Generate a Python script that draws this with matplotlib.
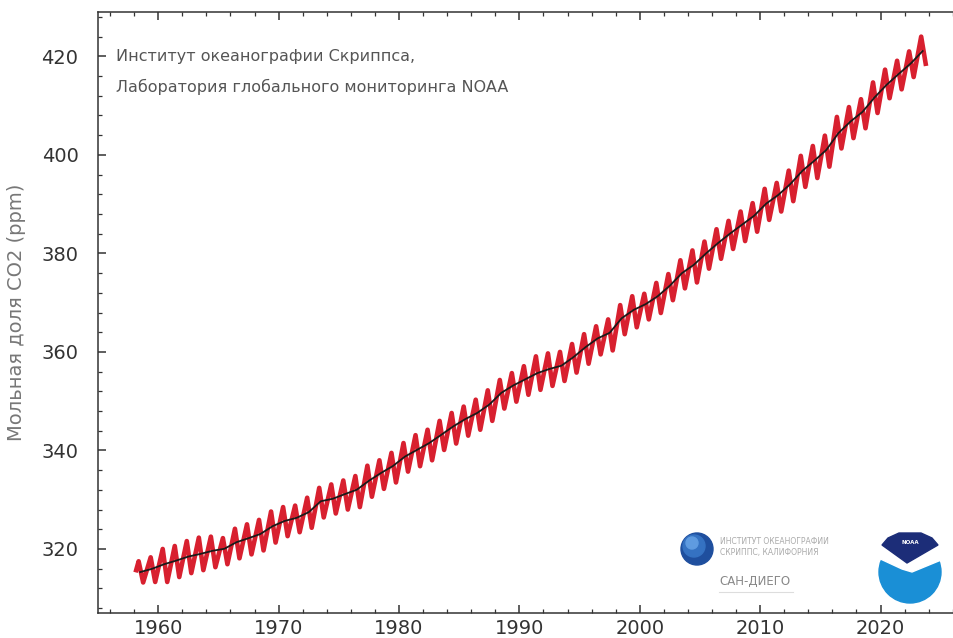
import numpy as np
import matplotlib.pyplot as plt
from matplotlib.patches import Circle, Polygon
from matplotlib.ticker import MultipleLocator

# Mauna Loa CO2 (ppm): yearly means, May maxima and autumn minima
years = list(range(1958, 2024))
annual_mean = [315.3, 315.98, 316.91, 317.64, 318.45, 318.99, 319.62, 320.04, 321.37, 322.18,
               323.05, 324.62, 325.68, 326.32, 327.46, 329.68, 330.19, 331.13, 332.03, 333.84,
               335.41, 336.84, 338.76, 340.12, 341.48, 343.15, 344.87, 346.35, 347.61, 349.31,
               351.69, 353.20, 354.45, 355.70, 356.54, 357.21, 358.96, 360.97, 362.74, 363.88,
               366.84, 368.54, 369.71, 371.32, 373.45, 375.98, 377.70, 379.98, 382.09, 384.02,
               385.83, 387.64, 390.10, 391.85, 394.06, 396.74, 398.81, 401.01, 404.41, 406.76,
               408.72, 411.65, 414.21, 416.41, 418.53, 421.08]
may_peak = [317.5, 318.3, 320.0, 320.6, 321.6, 322.3, 322.5, 322.2, 324.1, 325.0,
            325.9, 327.6, 328.5, 328.8, 330.4, 332.4, 333.1, 333.9, 334.8, 336.9,
            338.0, 339.5, 341.5, 343.1, 344.2, 346.0, 347.6, 348.9, 350.3, 352.2,
            354.3, 355.7, 357.1, 359.1, 359.7, 360.0, 361.6, 363.6, 365.2, 366.6,
            369.5, 371.3, 371.8, 374.0, 375.8, 378.6, 380.6, 382.4, 384.9, 386.6,
            388.5, 390.2, 393.1, 394.3, 396.8, 399.8, 401.8, 403.9, 407.7, 409.7,
            411.3, 414.7, 417.3, 419.1, 421.0, 424.0]
autumn_low = [313.2, 313.3, 313.3, 314.3, 315.1, 315.7, 316.3, 316.9, 318.1, 318.9,
              319.7, 321.3, 322.6, 323.4, 324.3, 326.4, 327.2, 328.0, 328.5, 330.6,
              332.2, 333.5, 335.7, 336.8, 338.0, 340.1, 341.4, 343.0, 344.2, 346.0,
              348.5, 349.9, 351.3, 352.3, 353.1, 354.1, 355.8, 357.6, 359.5, 360.3,
              363.6, 365.0, 366.6, 367.9, 370.5, 372.9, 374.1, 376.9, 378.9, 380.9,
              382.5, 384.4, 386.8, 388.5, 390.6, 393.5, 395.3, 397.6, 401.3, 403.4,
              405.4, 408.5, 411.5, 413.3, 415.8, 418.5]
first_month = (1958.17, 315.7)  # March 1958

# red seasonal curve: start, then May high / autumn low of every year
t = [first_month[0]]
v = [first_month[1]]
for y, hi, lo in zip(years, may_peak, autumn_low):
    t += [y + 0.375, y + 0.75]
    v += [hi, lo]

fig = plt.figure(figsize=(9.54, 6.38), dpi=100)
# axes run a little past the right edge, so the right spine is cut away
ax = fig.add_axes([98 / 954, 1 - 613 / 638, 862 / 954, 601 / 638])

ax.plot(t, v, color='#d8202f', lw=3.3, solid_joinstyle='round')
ax.plot(np.array(years) + 0.5, annual_mean, color='#1a1a1a', lw=1.3)

ax.set_xlim(1955, 2026.6)
ax.set_ylim(307, 429)
ax.xaxis.set_major_locator(MultipleLocator(10))
ax.xaxis.set_minor_locator(MultipleLocator(2))
ax.yaxis.set_major_locator(MultipleLocator(20))
ax.yaxis.set_minor_locator(MultipleLocator(4))
ax.tick_params(which='both', direction='in', top=True, right=False, colors='#333333')
ax.tick_params(which='major', length=6, width=1.1, labelsize=14)
ax.tick_params(which='minor', length=3, width=0.9)
ax.tick_params(axis='y', pad=14)
ax.tick_params(axis='x', pad=4)
for s in ax.spines.values():
    s.set_color('#333333')
    s.set_linewidth(1.1)

ax.set_ylabel('Мольная доля CO2 (ppm)', fontsize=14, color='#777777', labelpad=11)

ax.text(0.021, 420, 'Институт океанографии Скриппса,', transform=ax.get_yaxis_transform(),
        fontsize=11.5, color='#555555', va='center', ha='left')
ax.text(0.021, 413.8, 'Лаборатория глобального мониторинга NOAA',
        transform=ax.get_yaxis_transform(), fontsize=11.5, color='#555555', va='center', ha='left')

# logos, drawn on an overlay in pixel coordinates
ov = fig.add_axes([0, 0, 1, 1], zorder=5)
ov.set_xlim(0, 954)
ov.set_ylim(638, 0)
ov.axis('off')
ov.patch.set_alpha(0)

ov.add_patch(Circle((697, 549), 16, color='#1f4f9e'))
ov.add_patch(Circle((694, 546), 11, color='#3572c2'))
ov.add_patch(Circle((692, 543), 6, color='#5f9be0'))
ov.text(720, 542, 'ИНСТИТУТ ОКЕАНОГРАФИИ', fontsize=5.5, color='#aaaaaa', va='center')
ov.text(720, 553, 'СКРИППС, КАЛИФОРНИЯ', fontsize=5.5, color='#aaaaaa', va='center')
ov.text(719, 581, 'САН-ДИЕГО', fontsize=8.5, color='#888888', va='center')
ov.plot([719, 793], [592, 592], color='#dddddd', lw=0.8)

ov.add_patch(Circle((910, 572), 31, color='#1a8fd6'))
ov.add_patch(Polygon([(874, 536), (946, 536), (946, 558), (912, 572), (902, 569), (874, 556)],
                     closed=True, color='white'))
ov.add_patch(Polygon([(882, 545), (888, 538), (899, 533), (921, 533), (932, 538), (938, 545),
                      (907, 563)], closed=True, color='#1c2d78'))
ov.text(910, 543, 'NOAA', fontsize=4, color='white', ha='center', va='center', weight='bold')

fig.savefig('out.png', dpi=100)
